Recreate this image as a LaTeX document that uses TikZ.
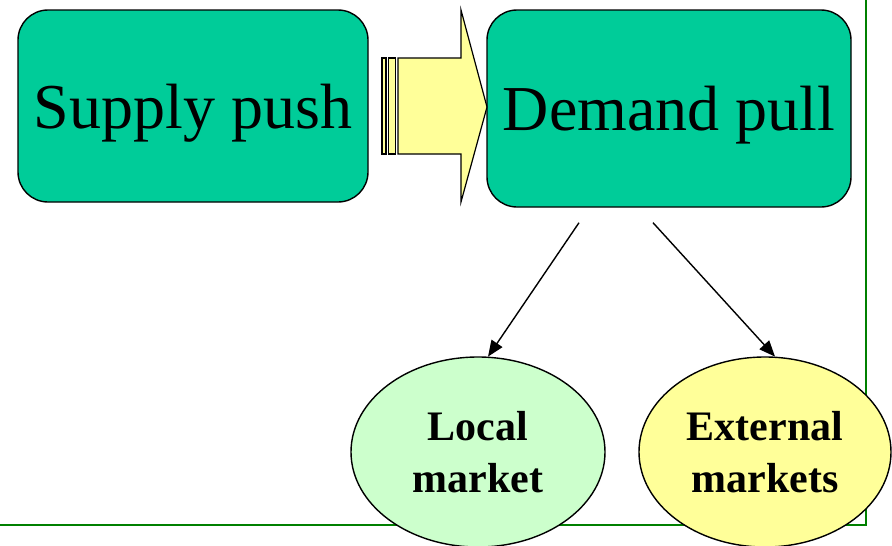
\documentclass[tikz,border=0pt]{standalone}
\usepackage{fontspec}
\setmainfont{Liberation Serif}
\usetikzlibrary{shapes.geometric,arrows.meta,calc}
\definecolor{boxteal}{RGB}{0,204,153}
\definecolor{pushyellow}{RGB}{255,255,153}
\definecolor{localgreen}{RGB}{204,255,204}
\definecolor{framegreen}{RGB}{0,128,0}

\begin{document}
\begin{tikzpicture}[
        x=1pt, y=-1pt,
        box/.style={rectangle, rounded corners=30pt, draw, line width=1.4pt, fill=boxteal,
            font=\fontsize{64}{70}\selectfont, inner sep=0pt, text depth=0pt},
        mkt/.style={ellipse, draw, line width=1.4pt, align=center, inner sep=0pt,
            font=\fontsize{42}{52}\selectfont\bfseries},
        link/.style={-{Triangle[length=16pt,width=13pt]}, line width=1.4pt}
    ]
        \useasboundingbox (0,0) rectangle (892,546);
        \clip (0,0) rectangle (892,546);

        % frame lines
        \draw[framegreen, line width=1.5pt] (866,0) -- (866,525) -- (0,525);

        \node[box, minimum width=350pt, minimum height=192pt] (sp) at (193,106) {Supply push};
        \node[box, minimum width=364pt, minimum height=197pt] (dp) at (669,108.5) {Demand pull};

        % striped block arrow
        \draw[fill=pushyellow, line width=1.2pt]
            (398,58) -- (461,58) -- (461,10) -- (487,107) -- (461,202) -- (461,154) -- (398,154) -- cycle;
        \draw[fill=pushyellow, line width=1.2pt] (382,58) rectangle (386,154);
        \draw[fill=pushyellow, line width=1.2pt] (388.5,58) rectangle (395.5,154);

        \node[mkt, fill=localgreen, minimum width=254pt, minimum height=190pt] (lm) at (478,452) {Local\\market};
        \node[mkt, fill=pushyellow, minimum width=252pt, minimum height=190pt] (em) at (765,452) {External\\markets};

        \coordinate (lo) at ($(dp.south)+(-90,15)$);
        \coordinate (eo) at ($(dp.south)+(-16,15)$);
        \draw[link] (lo) -- (lm.84);
        \draw[link] (eo) -- (em.84);
    \end{tikzpicture}
\end{document}
